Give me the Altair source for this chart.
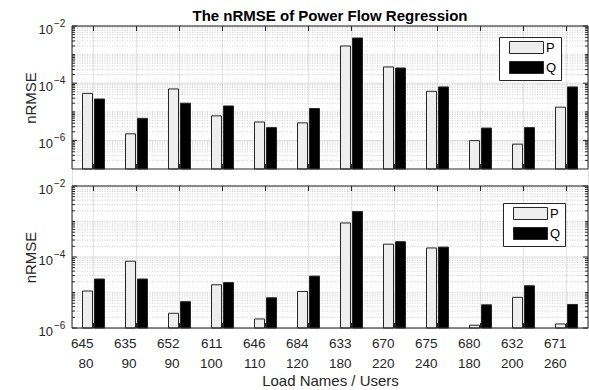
import altair as alt
import pandas as pd

# Load buses and number of users behind each
loads = ["645", "635", "652", "611", "646", "684", "633", "670", "675", "680", "632", "671"]
users = [80, 90, 90, 100, 110, 120, 180, 220, 240, 180, 200, 260]

# nRMSE of active (P) and reactive (Q) power, upper panel
p_top = [4.4e-5, 1.7e-6, 6.3e-5, 7.2e-6, 4.4e-6, 4.1e-6, 2.0e-3, 3.7e-4, 5.2e-5, 9.8e-7, 7.4e-7, 1.45e-5]
q_top = [2.8e-5, 5.9e-6, 2.0e-5, 1.6e-5, 2.8e-6, 1.3e-5, 3.8e-3, 3.4e-4, 7.4e-5, 2.7e-6, 2.8e-6, 7.4e-5]

# nRMSE of active (P) and reactive (Q) power, lower panel
p_bot = [1.1e-5, 7.6e-5, 2.6e-6, 1.65e-5, 1.8e-6, 1.07e-5, 9.1e-4, 2.3e-4, 1.8e-4, 1.2e-6, 7.3e-6, 1.3e-6]
q_bot = [2.4e-5, 2.4e-5, 5.5e-6, 1.9e-5, 7.1e-6, 2.9e-5, 1.9e-3, 2.7e-4, 1.9e-4, 4.5e-6, 1.55e-5, 4.6e-6]

series = ["P", "Q"]
series_colors = ["#eeeeee", "#000000"]
labeled_exponents = [-2, -4, -6]
chart_title = "The nRMSE of Power Flow Regression"

W = 516
H = 302
FONT = "Liberation Sans"
INK = "#262626"

cats = [f"{n}|{u}" for n, u in zip(loads, users)]
cat_df = pd.DataFrame({"load": cats})
one_row = pd.DataFrame({"title": [chart_title]})


def bar_frame(p, q):
    rows = []
    for c, pv, qv in zip(cats, p, q):
        rows.append({"load": c, "series": "P", "value": pv})
        rows.append({"load": c, "series": "Q", "value": qv})
    return pd.DataFrame(rows)


def log_ticks(lo, hi):
    major = [10.0 ** e for e in labeled_exponents if lo <= e <= hi]
    minor = []
    for e in range(lo, hi):
        for k in range(1, 10):
            if k == 1 and (e in labeled_exponents or e == lo):
                continue
            minor.append(k * 10.0 ** e)
    return major, minor


def xenc(**kw):
    return alt.X("load:N", sort=cats,
                 scale=alt.Scale(paddingInner=0, paddingOuter=0), **kw)


def panel(p, q, lo, hi, y0, y1, legend_xy, x_axis=None):
    major, minor = log_ticks(lo, hi)
    major_df = pd.DataFrame({"v": major})
    minor_df = pd.DataFrame({"v": minor})
    label_df = pd.DataFrame({
        "v": [10.0 ** e for e in labeled_exponents if lo <= e <= hi],
        "base": "10",
        "exp": ["\u2212" + str(-e) for e in labeled_exponents if lo <= e <= hi],
    })
    yscale = alt.Scale(type="log", domain=[10.0 ** lo, 10.0 ** hi],
                       range=[y1, y0], nice=False)

    def yv():
        return alt.Y("v:Q", scale=yscale)

    xgrid = alt.Chart(cat_df).mark_rule(color="#e4e4e4", strokeWidth=1).encode(
        x=xenc(), y=alt.value(y0), y2=alt.value(y1))
    minor_grid = alt.Chart(minor_df).mark_rule(
        color="#b8b8b8", strokeWidth=0.7, strokeDash=[1, 1.5]).encode(
        y=yv(), x=alt.value(0), x2=alt.value(W))
    major_grid = alt.Chart(major_df).mark_rule(color="#dcdcdc", strokeWidth=1).encode(
        y=yv(), x=alt.value(0), x2=alt.value(W))

    xkw = {"axis": x_axis} if x_axis is not None else {}
    bars = alt.Chart(bar_frame(p, q)).mark_bar(stroke=INK, strokeWidth=1).encode(
        x=xenc(**xkw),
        xOffset=alt.XOffset("series:N", sort=series,
                            scale=alt.Scale(paddingInner=2 / 12, paddingOuter=0.875)),
        y=alt.Y("value:Q", scale=yscale,
                axis=alt.Axis(orient="left", title="nRMSE", labels=False, ticks=False,
                              domain=False, grid=False, minExtent=0, maxExtent=0,
                              titlePadding=34, titleFont=FONT, titleFontSize=15,
                              titleFontWeight="normal", titleColor=INK)),
        y2=alt.Y2Datum(10.0 ** lo),
        color=alt.Color("series:N",
                        scale=alt.Scale(domain=series, range=series_colors),
                        legend=alt.Legend(
                            title=None, orient="none",
                            legendX=legend_xy[0], legendY=legend_xy[1],
                            symbolType="M-2.833,-1H2.833V1H-2.833Z", symbolSize=144,
                            symbolStrokeColor=INK, symbolStrokeWidth=1,
                            symbolOffset=17, labelOffset=13, padding=4,
                            rowPadding=3, strokeColor=INK, fillColor="white",
                            labelFont=FONT, labelFontSize=13, labelColor="#000"))
    )

    frame = alt.Chart(one_row).mark_rect(fillOpacity=0, stroke=INK, strokeWidth=1).encode(
        x=alt.value(0), x2=alt.value(W), y=alt.value(y0), y2=alt.value(y1))

    xticks_top = alt.Chart(cat_df).mark_rule(color=INK).encode(
        x=xenc(), y=alt.value(y0), y2=alt.value(y0 + 5))
    xticks_bot = alt.Chart(cat_df).mark_rule(color=INK).encode(
        x=xenc(), y=alt.value(y1 - 5), y2=alt.value(y1))

    def yticks(df, length):
        left = alt.Chart(df).mark_rule(color=INK).encode(
            y=yv(), x=alt.value(0), x2=alt.value(length))
        right = alt.Chart(df).mark_rule(color=INK).encode(
            y=yv(), x=alt.value(W - length), x2=alt.value(W))
        return [left, right]

    base_labels = alt.Chart(label_df).mark_text(
        align="right", baseline="middle", dy=3.5, font=FONT, fontSize=13, color=INK).encode(
        y=yv(), x=alt.value(-19), text="base:N")
    exp_labels = alt.Chart(label_df).mark_text(
        align="left", baseline="middle", dy=-2.5, font=FONT, fontSize=10, color=INK).encode(
        y=yv(), x=alt.value(-18), text="exp:N")

    return alt.layer(xgrid, minor_grid, major_grid, bars, frame, xticks_top, xticks_bot,
                     *yticks(major_df, 5), *yticks(minor_df, 3), base_labels, exp_labels)


x_axis = alt.Axis(title="Load Names / Users", labelExpr="split(datum.label, '|')",
                  labelAngle=0, ticks=False, tickSize=0, domain=False, grid=False,
                  labelPadding=15, labelLineHeight=20, labelFont=FONT, labelFontSize=13.5,
                  labelColor=INK, titleFont=FONT, titleFontSize=15,
                  titleFontWeight="normal", titleColor=INK, titlePadding=4)

top = panel(p_top, q_top, -7, -2, 0, 143, (427, 11))
bottom = panel(p_bot, q_bot, -6, -2, 160, 302, (431, 177), x_axis)

title_text = alt.Chart(one_row).mark_text(
    font=FONT, fontSize=15, fontWeight="bold", color="#000",
    align="center", baseline="alphabetic").encode(
    x=alt.value(W / 2), y=alt.value(-5), text="title:N")

chart = alt.layer(top, bottom, title_text).resolve_scale(
    y="independent", color="independent"
).properties(
    width=W, height=H,
    autosize=alt.AutoSizeParams(type="none"),
    padding={"left": 72, "top": 26, "right": 1, "bottom": 62},
).configure_view(stroke=None).configure(background="white")

chart.save("out.html", embed_options={"renderer": "svg", "actions": False})
